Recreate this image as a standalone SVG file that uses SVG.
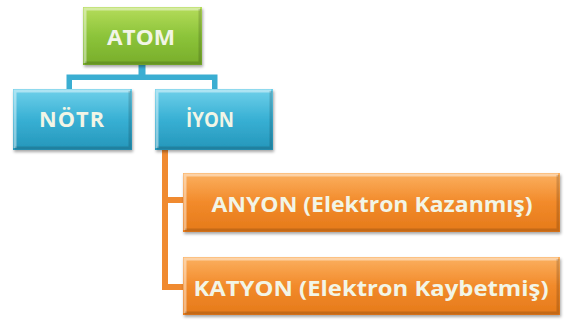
<svg xmlns="http://www.w3.org/2000/svg" width="564" height="320" viewBox="0 0 564 320">
<defs>
<linearGradient id="gG" x1="0" y1="0" x2="0" y2="1"><stop offset="0" stop-color="#b5dc5a"/><stop offset="0.5" stop-color="#8cc43a"/><stop offset="1" stop-color="#78ad2a"/></linearGradient>
<linearGradient id="gB" x1="0" y1="0" x2="0" y2="1"><stop offset="0" stop-color="#6fd0ea"/><stop offset="0.5" stop-color="#38b0d4"/><stop offset="1" stop-color="#2596ba"/></linearGradient>
<linearGradient id="gO" x1="0" y1="0" x2="0" y2="1"><stop offset="0" stop-color="#fbb060"/><stop offset="0.5" stop-color="#f28a2a"/><stop offset="1" stop-color="#e57a1a"/></linearGradient>
<filter id="sh" x="-10%" y="-10%" width="120%" height="130%"><feDropShadow dx="1" dy="2" stdDeviation="1.5" flood-color="#000" flood-opacity="0.35"/></filter>
</defs>
<style>
.box{filter:url(#sh);}
.bev{fill:none;stroke:#ffffff;stroke-opacity:0.45;stroke-width:3;}
.bevd{fill:none;stroke:#000;stroke-opacity:0.15;stroke-width:3;}
.t{font-family:"Open Sans","Liberation Sans",sans-serif;font-weight:bold;fill:#f2f5e6;text-anchor:middle;dominant-baseline:central;}
.cb{fill:none;stroke:#3aaed2;stroke-width:7;}
.cbi{fill:none;stroke:#ffffff;stroke-width:2;}
.co{fill:none;stroke:#f08a30;stroke-width:6;}
</style>
<g id="connectors">
<path class="cb" d="M142 65 V78 M70 90 V78 H214 V90"/>
<path class="cbi" d="M73 90 V81 H211 V90"/>
<path class="co" d="M165 150 V287 H185 M165 200 H185"/>
</g>
<g id="atom">
<rect class="box" x="83" y="7" width="119" height="58" fill="url(#gG)"/>
<path class="bev" d="M85 63 V9 H200"/>
<path class="bevd" d="M85 63 H200 V9"/>
<text class="t" x="141" y="37" font-size="21" textLength="68" lengthAdjust="spacingAndGlyphs">ATOM</text>
</g>
<g id="notr">
<rect class="box" x="13" y="89" width="119" height="61" fill="url(#gB)"/>
<path class="bev" d="M15 148 V91 H130"/>
<path class="bevd" d="M15 148 H130 V91"/>
<text class="t" x="72" y="119" font-size="21" textLength="66" lengthAdjust="spacingAndGlyphs" letter-spacing="1">NÖTR</text>
</g>
<g id="iyon">
<rect class="box" x="155" y="89" width="118" height="61" fill="url(#gB)"/>
<path class="bev" d="M157 148 V91 H271"/>
<path class="bevd" d="M157 148 H271 V91"/>
<text class="t" x="210" y="119" font-size="21" textLength="48" lengthAdjust="spacingAndGlyphs">İYON</text>
</g>
<g id="anyon">
<rect class="box" x="183" y="173" width="377" height="59" fill="url(#gO)"/>
<path class="bev" d="M185 230 V175 H558"/>
<path class="bevd" d="M185 230 H558 V175"/>
<text class="t" x="372" y="204" font-size="21" textLength="321" lengthAdjust="spacingAndGlyphs">ANYON (Elektron Kazanmış)</text>
</g>
<g id="katyon">
<rect class="box" x="183" y="257" width="377" height="58" fill="url(#gO)"/>
<path class="bev" d="M185 313 V259 H558"/>
<path class="bevd" d="M185 313 H558 V259"/>
<text class="t" x="371" y="288" font-size="21" textLength="355" lengthAdjust="spacingAndGlyphs">KATYON (Elektron Kaybetmiş)</text>
</g>
</svg>
